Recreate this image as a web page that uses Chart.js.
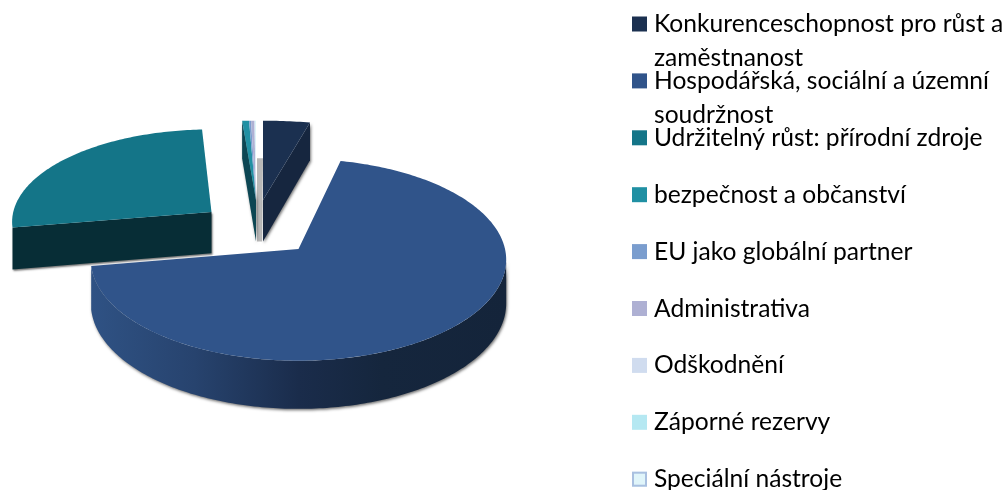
<!DOCTYPE html>
<html><head><meta charset="utf-8">
<style>html,body{margin:0;padding:0;background:#fff}#w{width:1006px;height:490px;position:relative}</style>
<script src="https://cdn.jsdelivr.net/npm/chart.js@4"></script></head>
<body><div id="w"><canvas id="c" width="1006" height="490"></canvas></div>
<script>
const categories = ["Konkurenceschopnost pro růst a zaměstnanost","Hospodářská, sociální a územní soudržnost","Udržitelný růst: přírodní zdroje","bezpečnost a občanství","EU jako globální partner","Administrativa","Odškodnění","Záporné rezervy","Speciální nástroje"];
const shares = [3.61,68.72,26.83,0.42,0.12,0.2,0.04,0.03,0.03];
const colors = ["#1b3050","#30548a","#147588","#2090a3","#7a9dce","#aeb0d3","#d0dcef","#b5e8f2","#e0f5fa"];
// explode placement of each slice (style): offset from pie centre, scale, widen
const offX = [-35.5,0,-87,-42.5,-42.5,-42.5,-42.5,-42.5,-42.5];
const offY = [-49,0,-37,-49,-49,-49,-49,-49,-49];
const scaleK = [.88,1,.96,.88,.88,.88,.88,.88,.88];
const widen = [1.27,1,1,1.6,1.6,1.6,1.6,1.6,1.6];
const flatten = [1,1,.955,1,1,1,1,1,1];
const depthK = [1.1,1,1,1.1,1.1,1.1,1.1,1.1,1.1];
const drawOrder = [2,3,4,5,6,7,8,0,1];
const P = .107, ASPECT = 100/207, DEPTH = 43;

function proj(a,i,th,r,z){
  const u=r*Math.sin(th), v=-r*Math.cos(th), s=1/(1-P*v), k=scaleK[i], R=a.outerRadius;
  return [a.x+offX[i]+R*k*u*s*widen[i], a.y+offY[i]+R*ASPECT*k*v*s*flatten[i]+z*DEPTH*k*s*depthK[i]];
}
function poly(ctx,pts){ctx.beginPath();pts.forEach((p,j)=>j?ctx.lineTo(p[0],p[1]):ctx.moveTo(p[0],p[1]));ctx.closePath();}
function arcPts(a,i,t0,t1,z){const n=Math.max(2,Math.ceil(Math.abs(t1-t0)*60)),o=[];for(let j=0;j<=n;j++)o.push(proj(a,i,t0+(t1-t0)*j/n,1,z));return o;}
function shadowed(ctx,blur,fn){ctx.save();ctx.shadowColor='rgba(0,0,0,.55)';ctx.shadowBlur=blur;ctx.shadowOffsetX=1;ctx.shadowOffsetY=1.5;fn();ctx.restore();}

const pie3d = {
  id:'pie3d',
  beforeDatasetsDraw(chart){
    const ctx=chart.ctx, arcs=chart.getDatasetMeta(0).data;
    const TH=a=>[a.startAngle+Math.PI/2,a.endAngle+Math.PI/2];
    drawOrder.forEach(i=>{
      const a=arcs[i]; const [t0,t1]=TH(a);
      const apex0=proj(a,i,0,0,0), apex1=proj(a,i,0,0,1);
      ctx.save();
      if(i===0){ // right cut face
        const o0=proj(a,i,t1,1,0),o1=proj(a,i,t1,1,1);
        shadowed(ctx,3,()=>{ctx.fillStyle='#16263f';poly(ctx,[apex0,o0,o1,apex1]);ctx.fill();});
        poly(ctx,[apex0,o0,...arcPts(a,i,t1,t0,0)]);ctx.fillStyle=colors[0];ctx.fill();
      } else if(i===1){
        const lo=Math.max(t0,96*Math.PI/180);
        const top=arcPts(a,i,lo,t1,0), bot=arcPts(a,i,t1,lo,1);
        const g=ctx.createLinearGradient(91,0,507,0);
        g.addColorStop(0,'#2f5284');g.addColorStop(.25,'#27436e');g.addColorStop(.5,'#1a2c4b');g.addColorStop(.7,'#15263d');g.addColorStop(1,'#14243a');
        shadowed(ctx,3,()=>{ctx.fillStyle=g;poly(ctx,[...top,...bot]);ctx.fill();});
        poly(ctx,[apex0,...arcPts(a,i,t0,t1,0)]);ctx.fillStyle=colors[1];ctx.fill();
      } else if(i===2){ // front cut face
        const o0=proj(a,i,t0,1,0),o1=proj(a,i,t0,1,1);
        shadowed(ctx,2,()=>{ctx.fillStyle='#072d36';poly(ctx,[apex0,o0,o1,apex1]);ctx.fill();});
        poly(ctx,[apex0,...arcPts(a,i,t0,t1,0)]);ctx.fillStyle=colors[2];ctx.fill();
      } else {
        if(i===3){ // narrow group: grey backing and dark cut face
          const last=arcs[8], e=proj(last,8,0,1,1), b=proj(last,8,0,0,1);
          ctx.fillStyle='#b9b9b9';poly(ctx,[[e[0]+1,e[1]],[e[0]+7,e[1]],[b[0]+6,b[1]],[b[0]+1,b[1]]]);ctx.fill();
          const o0=proj(a,i,t0,1,0),o1=proj(a,i,t0,1,1);
          shadowed(ctx,3,()=>{ctx.fillStyle='#0c4653';poly(ctx,[apex0,o0,o1,apex1]);ctx.fill();});
        }
        poly(ctx,[apex0,...arcPts(a,i,t0,t1,0)]);ctx.fillStyle=colors[i];ctx.fill();
      }
      ctx.restore();
    });
    return false;
  },
  afterDraw(chart){
    const ctx=chart.ctx; ctx.save();
    ctx.font='24.6px Lato'; ctx.textBaseline='alphabetic'; ctx.fillStyle='#000';
    categories.forEach((t,i)=>{
      const yc=24+56.9*i;
      ctx.fillStyle=colors[i]; ctx.fillRect(632,yc-7.5,15,15);
      if(i===8){ctx.strokeStyle='#a9c0e0';ctx.lineWidth=2;ctx.strokeRect(633,yc-6.5,13,13);}
      ctx.fillStyle='#000';
      let line='',y=yc+8;
      t.split(' ').forEach(w=>{const n=line?line+' '+w:w; if(ctx.measureText(n).width>354){ctx.fillText(line,654,y);y+=34;line=w;} else line=n;});
      ctx.fillText(line,654,y);
    });
    ctx.restore();
  }
};
new Chart(document.getElementById('c'),{
  type:'pie',
  data:{labels:categories,datasets:[{data:shares,backgroundColor:colors,borderWidth:0}]},
  options:{responsive:false,animation:false,
    layout:{padding:{left:92,right:501,top:42,bottom:34}},
    plugins:{legend:{display:false},tooltip:{enabled:false}}},
  plugins:[pie3d]
});
</script></body></html>
